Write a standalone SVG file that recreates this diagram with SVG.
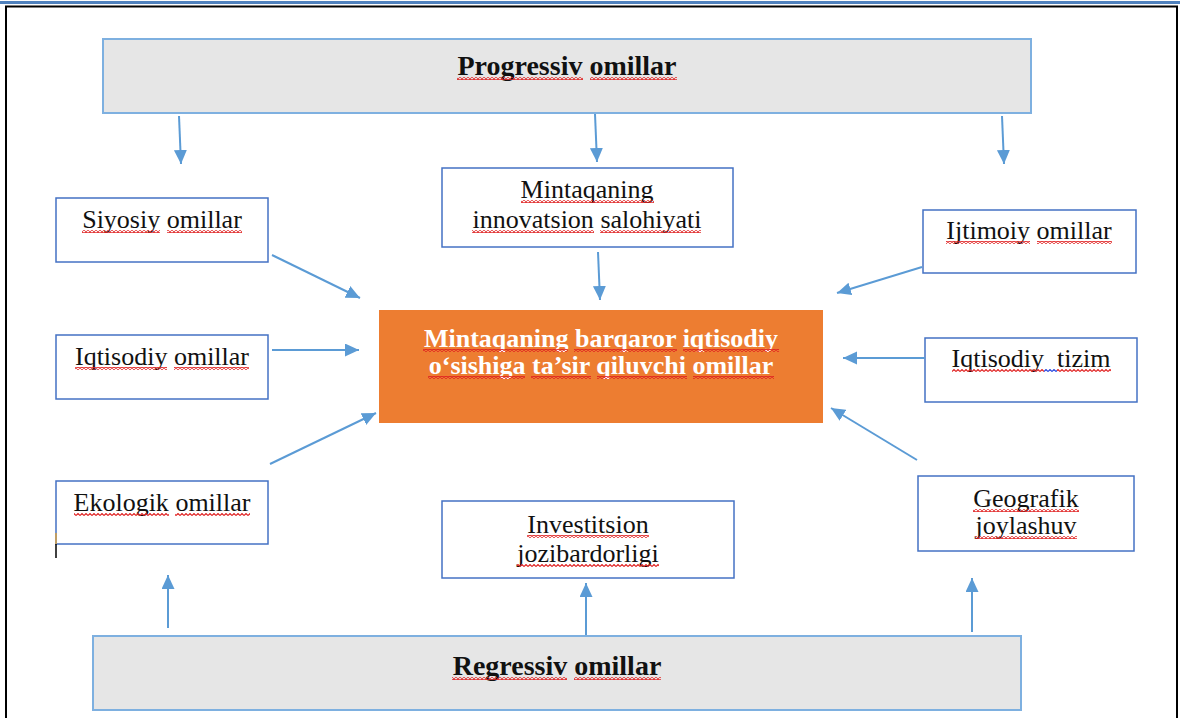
<svg xmlns="http://www.w3.org/2000/svg" width="1180" height="718" viewBox="0 0 1180 718">
<style>
text{font-family:'Liberation Serif','DejaVu Serif',serif}
.lbl{font-size:26px;fill:#111;text-anchor:middle}
.ttl{font-size:28px;font-weight:bold;fill:#111;text-anchor:middle}
.ctr{font-size:26px;font-weight:bold;fill:#fff;text-anchor:middle}
.box{fill:#fff;stroke:#4472c4;stroke-width:1.5}
.gray{fill:#e6e6e6;stroke:#7eb0e0;stroke-width:2}
.arr{stroke:#5b9bd5;stroke-width:2;fill:none;marker-end:url(#ah)}
.sq{fill:url(#wv)}
.sqb{fill:url(#wvb)}
</style>
<defs>
<marker id="ah" markerUnits="userSpaceOnUse" markerWidth="16" markerHeight="14" refX="14" refY="6.5" orient="auto">
<path d="M0,0 L14,6.5 L0,13 z" fill="#5b9bd5"/>
</marker>
<pattern id="wv" patternUnits="userSpaceOnUse" width="4" height="3">
<path d="M0,2.5 L2,0.5 L4,2.5" fill="none" stroke="#e02020" stroke-width="1.1"/>
</pattern>
<pattern id="wvb" patternUnits="userSpaceOnUse" width="4" height="3">
<path d="M0,2.5 L2,0.5 L4,2.5" fill="none" stroke="#2040e0" stroke-width="1.1"/>
</pattern>
</defs>
<rect x="0" y="0" width="1180" height="718" fill="#fff"/>
<rect x="0" y="1" width="1180" height="3" fill="#4f81bd"/>
<path d="M6,718 V6.5 H1177 V718" fill="none" stroke="#000" stroke-width="2"/>

<g id="progressiv">
<rect class="gray" x="103" y="39" width="928" height="74"/>
<text class="ttl" x="567" y="75"><tspan>Progressiv</tspan> <tspan>omillar</tspan></text>
<rect class="sq" x="457" y="77" width="126" height="3"/>
<rect class="sq" x="590" y="77" width="87" height="3"/>
</g>
<g id="regressiv">
<rect class="gray" x="93" y="636" width="928" height="74"/>
<text class="ttl" x="557" y="675"><tspan>Regressiv</tspan> <tspan>omillar</tspan></text>
<rect class="sq" x="452" y="677" width="115" height="3"/>
<rect class="sq" x="574" y="677" width="87" height="3"/>
</g>
<g id="innovatsion">
<rect class="box" x="442" y="168" width="291" height="79"/>
<text class="lbl" x="587" y="198"><tspan>Mintaqaning</tspan></text>
<text class="lbl" x="587" y="228"><tspan>innovatsion</tspan> <tspan>salohiyati</tspan></text>
<rect class="sq" x="521" y="200" width="133" height="3"/>
<rect class="sq" x="472" y="230" width="122" height="3"/>
<rect class="sq" x="600" y="230" width="101" height="3"/>
</g>
<g id="siyosiy">
<rect class="box" x="56" y="198" width="212" height="64"/>
<text class="lbl" x="162" y="228"><tspan>Siyosiy</tspan> <tspan>omillar</tspan></text>
<rect class="sq" x="82" y="230" width="78" height="3"/>
<rect class="sq" x="167" y="230" width="75" height="3"/>
</g>
<g id="iqtisodiy-omillar">
<rect class="box" x="56" y="335" width="212" height="64"/>
<text class="lbl" x="162" y="365"><tspan>Iqtisodiy</tspan> <tspan>omillar</tspan></text>
<rect class="sq" x="75" y="367" width="92" height="3"/>
<rect class="sq" x="174" y="367" width="75" height="3"/>
</g>
<g id="ekologik">
<rect class="box" x="56" y="481" width="212" height="63"/>
<line x1="56" y1="533" x2="56" y2="544" stroke="#d9a040" stroke-width="1.5"/>
<line x1="56" y1="544" x2="56" y2="558" stroke="#000" stroke-width="1.5"/>
<text class="lbl" x="162" y="511"><tspan>Ekologik</tspan> <tspan>omillar</tspan></text>
<rect class="sq" x="74" y="513" width="95" height="3"/>
<rect class="sq" x="175" y="513" width="75" height="3"/>
</g>
<g id="ijtimoiy">
<rect class="box" x="923" y="210" width="213" height="63"/>
<text class="lbl" x="1029" y="239"><tspan>Ijtimoiy</tspan> <tspan>omillar</tspan></text>
<rect class="sq" x="946" y="241" width="84" height="3"/>
<rect class="sq" x="1037" y="241" width="75" height="3"/>
</g>
<g id="iqtisodiy-tizim">
<rect class="box" x="925" y="338" width="212" height="64"/>
<text class="lbl" x="1031" y="367" xml:space="preserve"><tspan>Iqtisodiy</tspan>  <tspan>tizim</tspan></text>
<rect class="sq" x="952" y="369" width="92" height="3"/>
<rect class="sqb" x="1044" y="369" width="13" height="3"/>
<rect class="sq" x="1057" y="369" width="54" height="3"/>
</g>
<g id="geografik">
<rect class="box" x="918" y="476" width="216" height="75"/>
<text class="lbl" x="1026" y="507"><tspan>Geografik</tspan></text>
<text class="lbl" x="1026" y="534"><tspan>joylashuv</tspan></text>
<rect class="sq" x="973" y="509" width="106" height="3"/>
<rect class="sq" x="975" y="536" width="102" height="3"/>
</g>
<g id="investitsion">
<rect class="box" x="442" y="501" width="292" height="77"/>
<text class="lbl" x="588" y="533"><tspan>Investitsion</tspan></text>
<text class="lbl" x="588" y="562"><tspan>jozibardorligi</tspan></text>
<rect class="sq" x="527" y="535" width="122" height="3"/>
<rect class="sq" x="517" y="564" width="142" height="3"/>
</g>
<g id="markaz">
<rect x="379" y="310" width="444" height="113" fill="#ed7d31"/>
<text class="ctr" x="601" y="347"><tspan>Mintaqaning</tspan> <tspan>barqaror</tspan> <tspan>iqtisodiy</tspan></text>
<text class="ctr" x="601" y="374"><tspan>o‘sishiga</tspan> <tspan>ta’sir</tspan> <tspan>qiluvchi</tspan> <tspan>omillar</tspan></text>
<rect class="sq" x="423" y="349" width="145" height="3"/>
<rect class="sq" x="574" y="349" width="103" height="3"/>
<rect class="sq" x="683" y="349" width="96" height="3"/>
<rect class="sq" x="428" y="376" width="97" height="3"/>
<rect class="sq" x="531" y="376" width="60" height="3"/>
<rect class="sq" x="597" y="376" width="90" height="3"/>
<rect class="sq" x="693" y="376" width="81" height="3"/>
</g>

<g id="connectors">
<line class="arr" x1="179" y1="116" x2="181" y2="164"/>
<line class="arr" x1="595" y1="114" x2="597" y2="162"/>
<line class="arr" x1="1002" y1="116" x2="1004" y2="164"/>
<line class="arr" x1="598" y1="252" x2="600" y2="300"/>
<line class="arr" x1="272" y1="255" x2="360" y2="298"/>
<line class="arr" x1="272" y1="350" x2="359" y2="350"/>
<line class="arr" x1="270" y1="464" x2="376" y2="413"/>
<line class="arr" x1="922" y1="267" x2="837" y2="293"/>
<line class="arr" x1="925" y1="358" x2="843" y2="358"/>
<line class="arr" x1="917" y1="460" x2="831" y2="408"/>
<line class="arr" x1="168" y1="628" x2="168" y2="575"/>
<line class="arr" x1="586" y1="635" x2="586" y2="583"/>
<line class="arr" x1="972" y1="632" x2="972" y2="578"/>
</g>
</svg>
